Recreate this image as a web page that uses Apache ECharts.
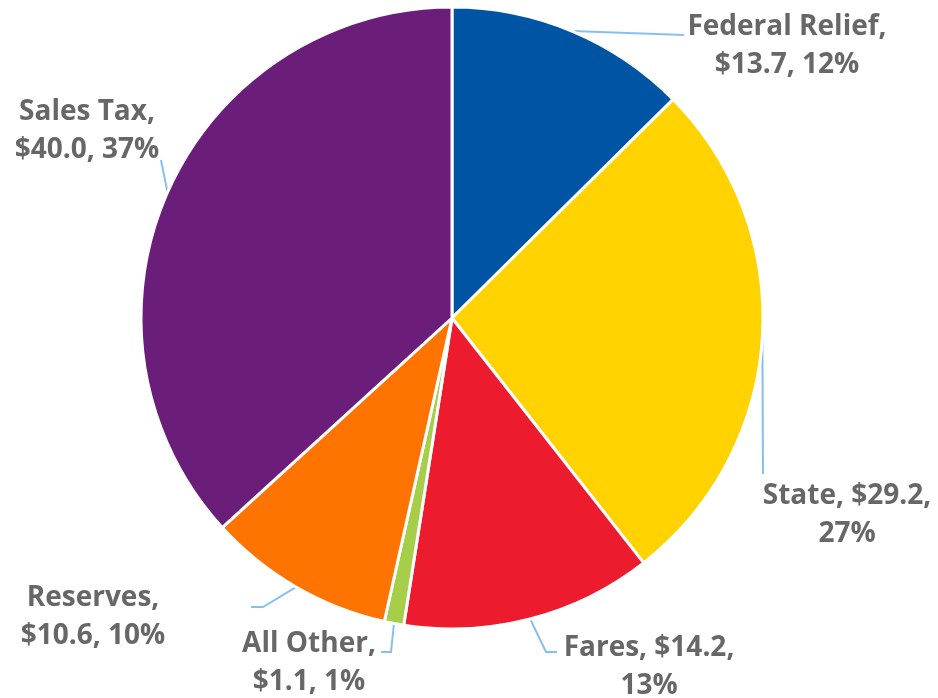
<!DOCTYPE html>
<html><head><meta charset="utf-8">
<script src="https://cdn.jsdelivr.net/npm/echarts@6/dist/echarts.min.js"></script>
<style>html,body{margin:0;padding:0;background:#fff}#c{width:938px;height:698px}</style>
</head><body><div id="c"></div>
<script>
const names = ['Federal Relief', 'State', 'Fares', 'All Other', 'Reserves', 'Sales Tax'];
const values = [13.7, 29.2, 14.2, 1.1, 10.6, 40.0];
const pctLabels = ['12%', '27%', '13%', '1%', '10%', '37%'];
const breakAfterName = [true, false, false, true, true, true];
const colors = ['#0054A4', '#FFD200', '#ED1B2E', '#A6CE48', '#FF7300', '#6A1E7A'];

// label layout (text block centre and leader-line bend points)
const labelPos = [[787, 46], [847, 515], [649, 667], [309, 663], [93, 617], [87, 131]];
const linePts = [
  [[684, 35], [684, 35]],
  [[763, 474], [763, 474]],
  [[546, 652], [557, 652]],
  [[391, 652], [381, 652]],
  [[263, 607], [251, 607]],
  [[161, 160], [161, 160]]
];

const chart = echarts.init(document.getElementById('c'), null, {renderer: 'canvas'});
chart.setOption({
  animation: false,
  series: [{
    type: 'pie',
    center: [452, 318],
    radius: [0, 311],
    startAngle: 90,
    clockwise: true,
    avoidLabelOverlap: false,
    data: names.map((n, i) => ({name: n, value: values[i], itemStyle: {color: colors[i]}})),
    itemStyle: {borderColor: '#fff', borderWidth: 3},
    label: {
      show: true,
      position: 'outside',
      fontFamily: 'Open Sans',
      fontWeight: 'bold',
      fontSize: 28,
      lineHeight: 38,
      color: '#676767',
      align: 'center',
      formatter: p => {
        const i = p.dataIndex;
        const a = names[i] + ',';
        const b = '$' + values[i].toFixed(1) + ', ' + pctLabels[i];
        return breakAfterName[i] ? a + '\n' + b : a + ' ' + b.replace(', ', ',\n');
      }
    },
    labelLine: {show: true, lineStyle: {color: '#86BFF2', width: 2}},
    labelLayout: p => {
      const i = p.dataIndex;
      const start = p.labelLinePoints ? p.labelLinePoints[0] : null;
      const out = {x: labelPos[i][0], y: labelPos[i][1], align: 'center', verticalAlign: 'middle'};
      if (start) out.labelLinePoints = [start, linePts[i][0], linePts[i][1]];
      return out;
    }
  }]
});
</script></body></html>
